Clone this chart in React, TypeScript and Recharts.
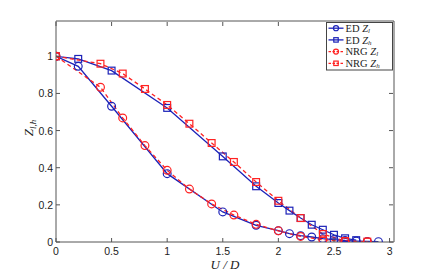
import React from "react";
import { LineChart, Line, XAxis, YAxis } from "recharts";

// ED results (blue, solid)
const edZlU = [0, 0.2, 0.5, 1, 1.5, 1.8, 2, 2.1, 2.2, 2.3, 2.4, 2.5, 2.6, 2.7, 2.8, 2.9];
const edZlV = [1, 0.946, 0.731, 0.368, 0.162, 0.09, 0.061, 0.045, 0.034, 0.027, 0.018, 0.013, 0.008, 0.005, 0.003, 0.002];
const edZhU = [0, 0.2, 0.5, 1, 1.5, 1.8, 2, 2.1, 2.2, 2.3, 2.4, 2.5, 2.6, 2.7];
const edZhV = [1, 0.986, 0.923, 0.722, 0.461, 0.3, 0.21, 0.169, 0.129, 0.093, 0.066, 0.039, 0.02, 0.01];

// NRG results (red, dashed)
const nrgZlU = [0, 0.4, 0.6, 0.8, 1, 1.2, 1.4, 1.6, 1.8, 2, 2.2, 2.4, 2.6, 2.8];
const nrgZlV = [1, 0.833, 0.668, 0.519, 0.386, 0.285, 0.205, 0.145, 0.095, 0.06, 0.03, 0.012, 0.003, 0.002];
const nrgZhU = [0, 0.4, 0.6, 0.8, 1, 1.2, 1.4, 1.6, 1.8, 2, 2.2, 2.4, 2.6, 2.8];
const nrgZhV = [1, 0.96, 0.907, 0.824, 0.738, 0.637, 0.533, 0.431, 0.323, 0.222, 0.129, 0.043, 0.005, 0.002];

const xTicks = [0, 0.5, 1, 1.5, 2, 2.5, 3];
const yTicks = [0, 0.2, 0.4, 0.6, 0.8, 1];

const BLUE = "#1c22b8";
const RED = "#ff2222";
const AXIS = "#555";
const TICK_FONT = "'Liberation Sans', Arial, sans-serif";
const SERIF = "'Liberation Serif', 'Times New Roman', serif";

const toPoints = (us: number[], vs: number[]) => us.map((u, i) => ({ u, v: vs[i] }));

const series = [
  { key: "edZl", name: "ED", sub: "l", data: toPoints(edZlU, edZlV), color: BLUE, dash: undefined, shape: "circle" },
  { key: "edZh", name: "ED", sub: "h", data: toPoints(edZhU, edZhV), color: BLUE, dash: undefined, shape: "square" },
  { key: "nrgZl", name: "NRG", sub: "l", data: toPoints(nrgZlU, nrgZlV), color: RED, dash: "4 3", shape: "circle" },
  { key: "nrgZh", name: "NRG", sub: "h", data: toPoints(nrgZhU, nrgZhV), color: RED, dash: "4 3", shape: "square" },
];

function Marker({ cx, cy, shape, color, size = 1 }: any) {
  if (cx == null || cy == null) return null;
  if (shape === "square") {
    const s = 3.4 * size;
    return <rect x={cx - s} y={cy - s} width={2 * s} height={2 * s} fill="none" stroke={color} strokeWidth={1.2} />;
  }
  return <circle cx={cx} cy={cy} r={3.9 * size} fill="none" stroke={color} strokeWidth={1.2} />;
}

const fmt = (v: number) => String(v);

const BottomTick = ({ x, y, payload }: any) => (
  <g>
    <line x1={x} y1={y} x2={x} y2={y - 4} stroke={AXIS} />
    <text x={x} y={y + 12.5} textAnchor="middle" fontFamily={TICK_FONT} fontSize={10.5} fill="#222">
      {fmt(payload.value)}
    </text>
  </g>
);
const TopTick = ({ x, y }: any) => <line x1={x} y1={y + 1} x2={x} y2={y + 5} stroke={AXIS} />;
const LeftTick = ({ x, y, payload }: any) => (
  <g>
    <line x1={x} y1={y} x2={x + 4} y2={y} stroke={AXIS} />
    <text x={x - 3} y={y + 4} textAnchor="end" fontFamily={TICK_FONT} fontSize={10.5} fill="#222">
      {fmt(payload.value)}
    </text>
  </g>
);
const RightTick = ({ x, y }: any) => <line x1={x - 1} y1={y} x2={x - 5} y2={y} stroke={AXIS} />;

// legend drawn as svg so the row spacing is exact
const LegendBox = () => (
  <svg width={67} height={49} style={{ position: "absolute", left: 326, top: 22 }}>
    <rect x={0.5} y={0.5} width={66} height={47.5} fill="#fff" stroke="#444" />
    {series.map((s, i) => {
      const cy = 6.2 + i * 11.7;
      return (
        <g key={s.key}>
          <line x1={2.5} y1={cy} x2={17.5} y2={cy} stroke={s.color} strokeWidth={1.3} strokeDasharray={s.dash ? "2.5 1.5" : undefined} />
          <Marker cx={10} cy={cy} shape={s.shape} color={s.color} size={0.65} />
          <text x={19.5} y={cy + 3.6} fontFamily={SERIF} fontSize={10.5} fill="#222">
            {s.name} <tspan fontStyle="italic">Z</tspan>
            <tspan fontStyle="italic" fontSize={7} dy={1}>{s.sub}</tspan>
          </text>
        </g>
      );
    })}
  </svg>
);

const YLabel = () => (
  <text transform="translate(33,128) rotate(-90)" textAnchor="middle" fontFamily={SERIF} fontSize={13} fill="#222">
    <tspan fontStyle="italic">Z</tspan>
    <tspan fontStyle="italic" fontSize={9} dy={3}>l,h</tspan>
  </text>
);

const XLabel = ({ viewBox }: any) => {
  const cx = viewBox ? viewBox.x + viewBox.width / 2 : 225;
  return (
    <text x={cx} y={269} textAnchor="middle" fontFamily={SERIF} fontSize={13} fontStyle="italic" fill="#222">
      U / D
    </text>
  );
};

export default function App() {
  return (
    <div style={{ position: "absolute", left: 0, top: 0, width: 436, height: 273, background: "#fff" }}>
      <LineChart width={436} height={273} margin={{ top: 20, right: 41, bottom: 0, left: 0 }}>
        <XAxis
          xAxisId="b"
          type="number"
          dataKey="u"
          domain={[0, 3.04]}
          ticks={xTicks}
          interval={0}
          allowDataOverflow
          height={31}
          tickSize={0}
          tickMargin={0}
          stroke={AXIS}
          tick={<BottomTick />}
          label={{ content: <XLabel /> }}
        />
        <XAxis
          xAxisId="t"
          orientation="top"
          type="number"
          dataKey="u"
          domain={[0, 3.04]}
          ticks={xTicks}
          interval={0}
          allowDataOverflow
          height={1}
          tickSize={0}
          tickMargin={0}
          stroke={AXIS}
          tick={<TopTick />}
        />
        <YAxis
          yAxisId="l"
          type="number"
          domain={[0, 1.19]}
          ticks={yTicks}
          interval={0}
          allowDataOverflow
          width={56}
          tickSize={0}
          tickMargin={0}
          stroke={AXIS}
          tick={<LeftTick />}
          label={{ content: <YLabel /> }}
        />
        <YAxis
          yAxisId="r"
          orientation="right"
          type="number"
          domain={[0, 1.19]}
          ticks={yTicks}
          interval={0}
          allowDataOverflow
          width={1}
          tickSize={0}
          tickMargin={0}
          stroke={AXIS}
          tick={<RightTick />}
        />
        {series.map((s) => (
          <Line
            key={s.key}
            xAxisId="b"
            yAxisId="l"
            data={s.data}
            dataKey="v"
            name={s.key}
            type="linear"
            stroke={s.color}
            strokeWidth={1.3}
            strokeDasharray={s.dash}
            isAnimationActive={false}
            dot={(p: any) => <Marker key={`${s.key}-${p.index}`} cx={p.cx} cy={p.cy} shape={s.shape} color={s.color} />}
            activeDot={false}
          />
        ))}
      </LineChart>
      <LegendBox />
    </div>
  );
}
